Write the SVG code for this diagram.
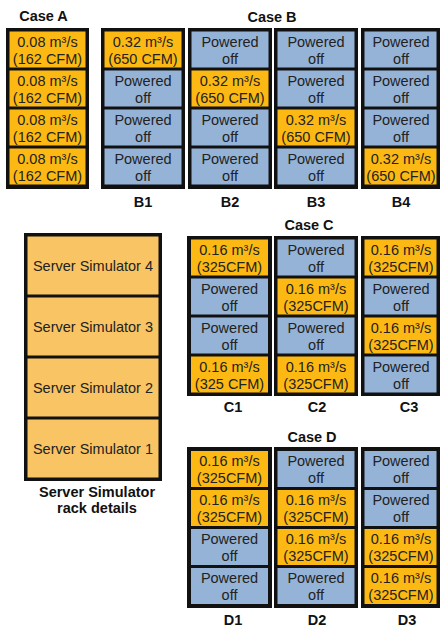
<svg xmlns="http://www.w3.org/2000/svg" width="440" height="628" viewBox="0 0 440 628">
<style>
.frame{fill:#111;}
.on{fill:#FDB913;}
.off{fill:#95B3D7;}
.rk{fill:#F9C463;}
.t{font-family:"Liberation Sans",Arial,sans-serif;font-size:14.5px;fill:#222;text-anchor:middle;}
.h{font-family:"Liberation Sans",Arial,sans-serif;font-size:14.5px;font-weight:bold;fill:#111;text-anchor:middle;}
</style>
<rect width="440" height="628" fill="#fff"/>

<!-- titles -->
<text class="h" x="43.5" y="21">Case A</text>
<text class="h" x="272" y="22">Case B</text>
<text class="h" x="309" y="230">Case C</text>
<text class="h" x="312" y="442">Case D</text>

<!-- Case A -->
<g id="caseA">
<rect class="frame" x="6" y="28" width="83" height="161"/>
<rect class="on" x="9.5" y="31.5" width="76" height="36"/>
<text class="t" x="47.5" y="46.5">0.08 m³/s</text><text class="t" x="47.5" y="63.5">(162 CFM)</text>
<rect class="on" x="9.5" y="70.5" width="76" height="36"/>
<text class="t" x="47.5" y="85.5">0.08 m³/s</text><text class="t" x="47.5" y="102.5">(162 CFM)</text>
<rect class="on" x="9.5" y="109.5" width="76" height="36"/>
<text class="t" x="47.5" y="124.5">0.08 m³/s</text><text class="t" x="47.5" y="141.5">(162 CFM)</text>
<rect class="on" x="9.5" y="148.5" width="76" height="36"/>
<text class="t" x="47.5" y="163.5">0.08 m³/s</text><text class="t" x="47.5" y="180.5">(162 CFM)</text>
</g>

<!-- B1 -->
<g id="B1">
<rect class="frame" x="101" y="28" width="84" height="161"/>
<rect class="on" x="104.5" y="31.5" width="77" height="36"/>
<text class="t" x="143" y="46.5">0.32 m³/s</text><text class="t" x="143" y="63.5">(650 CFM)</text>
<rect class="off" x="104.5" y="70.5" width="77" height="36"/>
<text class="t" x="143" y="85.5">Powered</text><text class="t" x="143" y="102.5">off</text>
<rect class="off" x="104.5" y="109.5" width="77" height="36"/>
<text class="t" x="143" y="124.5">Powered</text><text class="t" x="143" y="141.5">off</text>
<rect class="off" x="104.5" y="148.5" width="77" height="36"/>
<text class="t" x="143" y="163.5">Powered</text><text class="t" x="143" y="180.5">off</text>
<text class="h" x="143" y="207">B1</text>
</g>

<!-- B2 -->
<g id="B2">
<rect class="frame" x="188" y="28" width="84" height="161"/>
<rect class="off" x="191.5" y="31.5" width="77" height="36"/>
<text class="t" x="230" y="46.5">Powered</text><text class="t" x="230" y="63.5">off</text>
<rect class="on" x="191.5" y="70.5" width="77" height="36"/>
<text class="t" x="230" y="85.5">0.32 m³/s</text><text class="t" x="230" y="102.5">(650 CFM)</text>
<rect class="off" x="191.5" y="109.5" width="77" height="36"/>
<text class="t" x="230" y="124.5">Powered</text><text class="t" x="230" y="141.5">off</text>
<rect class="off" x="191.5" y="148.5" width="77" height="36"/>
<text class="t" x="230" y="163.5">Powered</text><text class="t" x="230" y="180.5">off</text>
<text class="h" x="230" y="207">B2</text>
</g>

<!-- B3 -->
<g id="B3">
<rect class="frame" x="274" y="28" width="84" height="161"/>
<rect class="off" x="277.5" y="31.5" width="77" height="36"/>
<text class="t" x="316" y="46.5">Powered</text><text class="t" x="316" y="63.5">off</text>
<rect class="off" x="277.5" y="70.5" width="77" height="36"/>
<text class="t" x="316" y="85.5">Powered</text><text class="t" x="316" y="102.5">off</text>
<rect class="on" x="277.5" y="109.5" width="77" height="36"/>
<text class="t" x="316" y="124.5">0.32 m³/s</text><text class="t" x="316" y="141.5">(650 CFM)</text>
<rect class="off" x="277.5" y="148.5" width="77" height="36"/>
<text class="t" x="316" y="163.5">Powered</text><text class="t" x="316" y="180.5">off</text>
<text class="h" x="316" y="207">B3</text>
</g>

<!-- B4 -->
<g id="B4">
<rect class="frame" x="361" y="28" width="84" height="161"/>
<rect class="off" x="364.5" y="31.5" width="72" height="36"/>
<text class="t" x="401" y="46.5">Powered</text><text class="t" x="401" y="63.5">off</text>
<rect class="off" x="364.5" y="70.5" width="72" height="36"/>
<text class="t" x="401" y="85.5">Powered</text><text class="t" x="401" y="102.5">off</text>
<rect class="off" x="364.5" y="109.5" width="72" height="36"/>
<text class="t" x="401" y="124.5">Powered</text><text class="t" x="401" y="141.5">off</text>
<rect class="on" x="364.5" y="148.5" width="72" height="36"/>
<text class="t" x="401" y="163.5">0.32 m³/s</text><text class="t" x="401" y="180.5">(650 CFM)</text>
<text class="h" x="401" y="207">B4</text>
</g>

<!-- Rack details -->
<g id="rack">
<rect class="frame" x="24" y="233" width="138" height="248"/>
<rect class="rk" x="27.5" y="236.5" width="131" height="58"/>
<text class="t" x="93" y="270.5">Server Simulator 4</text>
<rect class="rk" x="27.5" y="297.5" width="131" height="58"/>
<text class="t" x="93" y="332">Server Simulator 3</text>
<rect class="rk" x="27.5" y="358.5" width="131" height="58"/>
<text class="t" x="93" y="393">Server Simulator 2</text>
<rect class="rk" x="27.5" y="419.5" width="131" height="58"/>
<text class="t" x="93" y="454">Server Simulator 1</text>
<text class="h" x="97" y="497">Server Simulator</text>
<text class="h" x="97" y="513">rack details</text>
</g>

<!-- C1 -->
<g id="C1">
<rect class="frame" x="187" y="236" width="85" height="160"/>
<rect class="on" x="191" y="239.5" width="77" height="36"/>
<text class="t" x="229.5" y="254.5">0.16 m³/s</text><text class="t" x="229.5" y="271.5">(325CFM)</text>
<rect class="off" x="191" y="278.5" width="77" height="36"/>
<text class="t" x="229.5" y="293.5">Powered</text><text class="t" x="229.5" y="310.5">off</text>
<rect class="off" x="191" y="317.5" width="77" height="36"/>
<text class="t" x="229.5" y="332.5">Powered</text><text class="t" x="229.5" y="349.5">off</text>
<rect class="on" x="191" y="356.5" width="77" height="36"/>
<text class="t" x="229.5" y="371.5">0.16 m³/s</text><text class="t" x="229.5" y="388.5">(325 CFM)</text>
<text class="h" x="233" y="412">C1</text>
</g>

<!-- C2 -->
<g id="C2">
<rect class="frame" x="274" y="236" width="84" height="160"/>
<rect class="off" x="277.5" y="239.5" width="77" height="36"/>
<text class="t" x="316" y="254.5">Powered</text><text class="t" x="316" y="271.5">off</text>
<rect class="on" x="277.5" y="278.5" width="77" height="36"/>
<text class="t" x="316" y="293.5">0.16 m³/s</text><text class="t" x="316" y="310.5">(325CFM)</text>
<rect class="off" x="277.5" y="317.5" width="77" height="36"/>
<text class="t" x="316" y="332.5">Powered</text><text class="t" x="316" y="349.5">off</text>
<rect class="on" x="277.5" y="356.5" width="77" height="36"/>
<text class="t" x="316" y="371.5">0.16 m³/s</text><text class="t" x="316" y="388.5">(325CFM)</text>
<text class="h" x="317" y="412">C2</text>
</g>

<!-- C3 -->
<g id="C3">
<rect class="frame" x="361" y="236" width="84" height="160"/>
<rect class="on" x="364.5" y="239.5" width="72" height="36"/>
<text class="t" x="401" y="254.5">0.16 m³/s</text><text class="t" x="401" y="271.5">(325CFM)</text>
<rect class="off" x="364.5" y="278.5" width="72" height="36"/>
<text class="t" x="401" y="293.5">Powered</text><text class="t" x="401" y="310.5">off</text>
<rect class="on" x="364.5" y="317.5" width="72" height="36"/>
<text class="t" x="401" y="332.5">0.16 m³/s</text><text class="t" x="401" y="349.5">(325CFM)</text>
<rect class="off" x="364.5" y="356.5" width="72" height="36"/>
<text class="t" x="401" y="371.5">Powered</text><text class="t" x="401" y="388.5">off</text>
<text class="h" x="409" y="412">C3</text>
</g>

<!-- D1 -->
<g id="D1">
<rect class="frame" x="187" y="447" width="85" height="161"/>
<rect class="on" x="191" y="451" width="77" height="36"/>
<text class="t" x="229.5" y="466">0.16 m³/s</text><text class="t" x="229.5" y="483">(325CFM)</text>
<rect class="on" x="191" y="490" width="77" height="36"/>
<text class="t" x="229.5" y="505">0.16 m³/s</text><text class="t" x="229.5" y="522">(325CFM)</text>
<rect class="off" x="191" y="529" width="77" height="36"/>
<text class="t" x="229.5" y="544">Powered</text><text class="t" x="229.5" y="561">off</text>
<rect class="off" x="191" y="568" width="77" height="36"/>
<text class="t" x="229.5" y="583">Powered</text><text class="t" x="229.5" y="600">off</text>
<text class="h" x="233" y="625">D1</text>
</g>

<!-- D2 -->
<g id="D2">
<rect class="frame" x="274" y="447" width="84" height="161"/>
<rect class="off" x="277.5" y="451" width="77" height="36"/>
<text class="t" x="316" y="466">Powered</text><text class="t" x="316" y="483">off</text>
<rect class="on" x="277.5" y="490" width="77" height="36"/>
<text class="t" x="316" y="505">0.16 m³/s</text><text class="t" x="316" y="522">(325CFM)</text>
<rect class="on" x="277.5" y="529" width="77" height="36"/>
<text class="t" x="316" y="544">0.16 m³/s</text><text class="t" x="316" y="561">(325CFM)</text>
<rect class="off" x="277.5" y="568" width="77" height="36"/>
<text class="t" x="316" y="583">Powered</text><text class="t" x="316" y="600">off</text>
<text class="h" x="317" y="625">D2</text>
</g>

<!-- D3 -->
<g id="D3">
<rect class="frame" x="361" y="447" width="84" height="161"/>
<rect class="off" x="364.5" y="451" width="72" height="36"/>
<text class="t" x="401" y="466">Powered</text><text class="t" x="401" y="483">off</text>
<rect class="off" x="364.5" y="490" width="72" height="36"/>
<text class="t" x="401" y="505">Powered</text><text class="t" x="401" y="522">off</text>
<rect class="on" x="364.5" y="529" width="72" height="36"/>
<text class="t" x="401" y="544">0.16 m³/s</text><text class="t" x="401" y="561">(325CFM)</text>
<rect class="on" x="364.5" y="568" width="72" height="36"/>
<text class="t" x="401" y="583">0.16 m³/s</text><text class="t" x="401" y="600">(325CFM)</text>
<text class="h" x="407" y="625">D3</text>
</g>
</svg>
